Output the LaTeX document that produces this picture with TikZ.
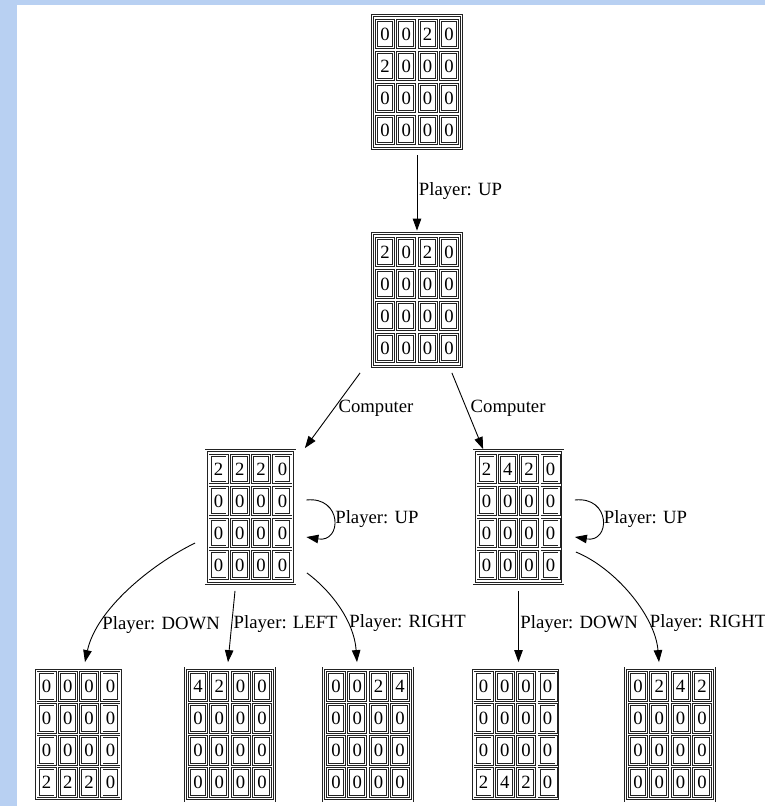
\documentclass[tikz,border=0pt]{standalone}
\usepackage{fontspec}
\setmainfont{Liberation Serif}
\usetikzlibrary{arrows.meta,calc}
\definecolor{pageblue}{HTML}{B8D0F2}
\definecolor{gridline}{HTML}{222222}

% one 4x4 game board: name, centre, 16 tile values row by row
\newcommand{\gameboard}[3]{%
  \node[boardframe] (#1) at (#2) {};
  \foreach \v [count=\k from 0] in {#3} {
    \pgfmathtruncatemacro{\bcol}{mod(\k,4)}
    \pgfmathtruncatemacro{\brow}{div(\k,4)}
    \node[cellbox] (#1c\k) at ($(#1)+({(\bcol-1.5)*21.33},{(\brow-1.5)*32})$) {\v};
  }
}

\begin{document}
\begin{tikzpicture}[x=1pt,y=-1pt,font=\fontsize{18.7}{22}\selectfont,
  boardframe/.style={draw=gridline,line width=0.9pt,double,double distance=1.3pt,
    minimum width=88.8pt,minimum height=132.8pt,inner sep=0pt,outer sep=0pt},
  cellbox/.style={draw=gridline,line width=0.9pt,double,double distance=1.2pt,
    minimum width=17pt,minimum height=27.5pt,inner sep=0pt,outer sep=0pt},
  move/.style={draw,line width=0.9pt,-{Triangle[length=12pt,width=8.5pt]}},
  movelabel/.style={anchor=west,inner sep=1.5pt}]
  \useasboundingbox (0,0) rectangle (765,806);
  \fill[pageblue] (0,0) rectangle (765,806);
  \fill[white] (17,5) rectangle (765,806);

  % boards
  \gameboard{b0}{417,82}{0,0,2,0,2,0,0,0,0,0,0,0,0,0,0,0}
  \gameboard{b1}{417,300}{2,0,2,0,0,0,0,0,0,0,0,0,0,0,0,0}
  \gameboard{b2}{250.5,517}{2,2,2,0,0,0,0,0,0,0,0,0,0,0,0,0}
  \gameboard{b3}{518.5,517}{2,4,2,0,0,0,0,0,0,0,0,0,0,0,0,0}
  \gameboard{b4}{78.5,734.5}{0,0,0,0,0,0,0,0,0,0,0,0,2,2,2,0}
  \gameboard{b5}{230,734.5}{4,2,0,0,0,0,0,0,0,0,0,0,0,0,0,0}
  \gameboard{b6}{368,734.5}{0,0,2,4,0,0,0,0,0,0,0,0,0,0,0,0}
  \gameboard{b7}{515.5,734.5}{0,0,0,0,0,0,0,0,0,0,0,0,2,4,2,0}
  \gameboard{b8}{670,734.5}{0,2,4,2,0,0,0,0,0,0,0,0,0,0,0,0}

  % first player move
  \draw[move] ($(b0.south)+(0,7)$) -- node[movelabel,pos=0.48] {Player: UP} ($(b1.north)+(0,-3)$);

  % computer adds a tile
  \draw[move] ($(b1.south west)+(-12.5,6.5)$) -- node[movelabel,pos=0.47,inner sep=4pt] {Computer} ($(b2.north east)+(10,-2.5)$);
  \draw[move] ($(b1.south east)+(-9.5,6.5)$) -- node[movelabel,pos=0.46,inner sep=4pt] {Computer} ($(b3.north west)+(9,-1.5)$);

  % moves that change nothing
  \draw[move] ($(b2.east)+(11.5,-17)$) .. controls +(36,-4) and +(36,6) .. node[movelabel,pos=0.5] {Player: UP} ($(b2.east)+(11.5,20)$);
  \draw[move] ($(b3.east)+(12,-17)$) .. controls +(36,-4) and +(36,6) .. node[movelabel,pos=0.5] {Player: UP} ($(b3.east)+(12,20)$);

  % player moves, left branch
  \draw[move] ($(b2.west)+(-11,26)$) .. controls +(-45,22) and +(11,-52) .. node[movelabel,pos=0.75] {Player: DOWN} ($(b4.north)+(6.5,-6)$);
  \draw[move] ($(b2.south)+(-15.5,7.5)$) -- node[movelabel,pos=0.46] {Player: LEFT} ($(b5.north)+(-2,-6)$);
  \draw[move] ($(b2.south east)+(12,-10.5)$) .. controls +(23,17) and +(-3,-42) .. node[movelabel,pos=0.66] {Player: RIGHT} ($(b6.north)+(-11,-6)$);

  % player moves, right branch
  \draw[move] ($(b3.south)+(0,7.5)$) -- node[movelabel,pos=0.46] {Player: DOWN} ($(b3.south |- b7.north)+(0,-6)$);
  \draw[move] ($(b3.east)+(13,35)$) .. controls +(39,16) and +(-4,-47) .. node[movelabel,pos=0.72] {Player: RIGHT} ($(b8.north)+(-11,-6)$);
\end{tikzpicture}
\end{document}
